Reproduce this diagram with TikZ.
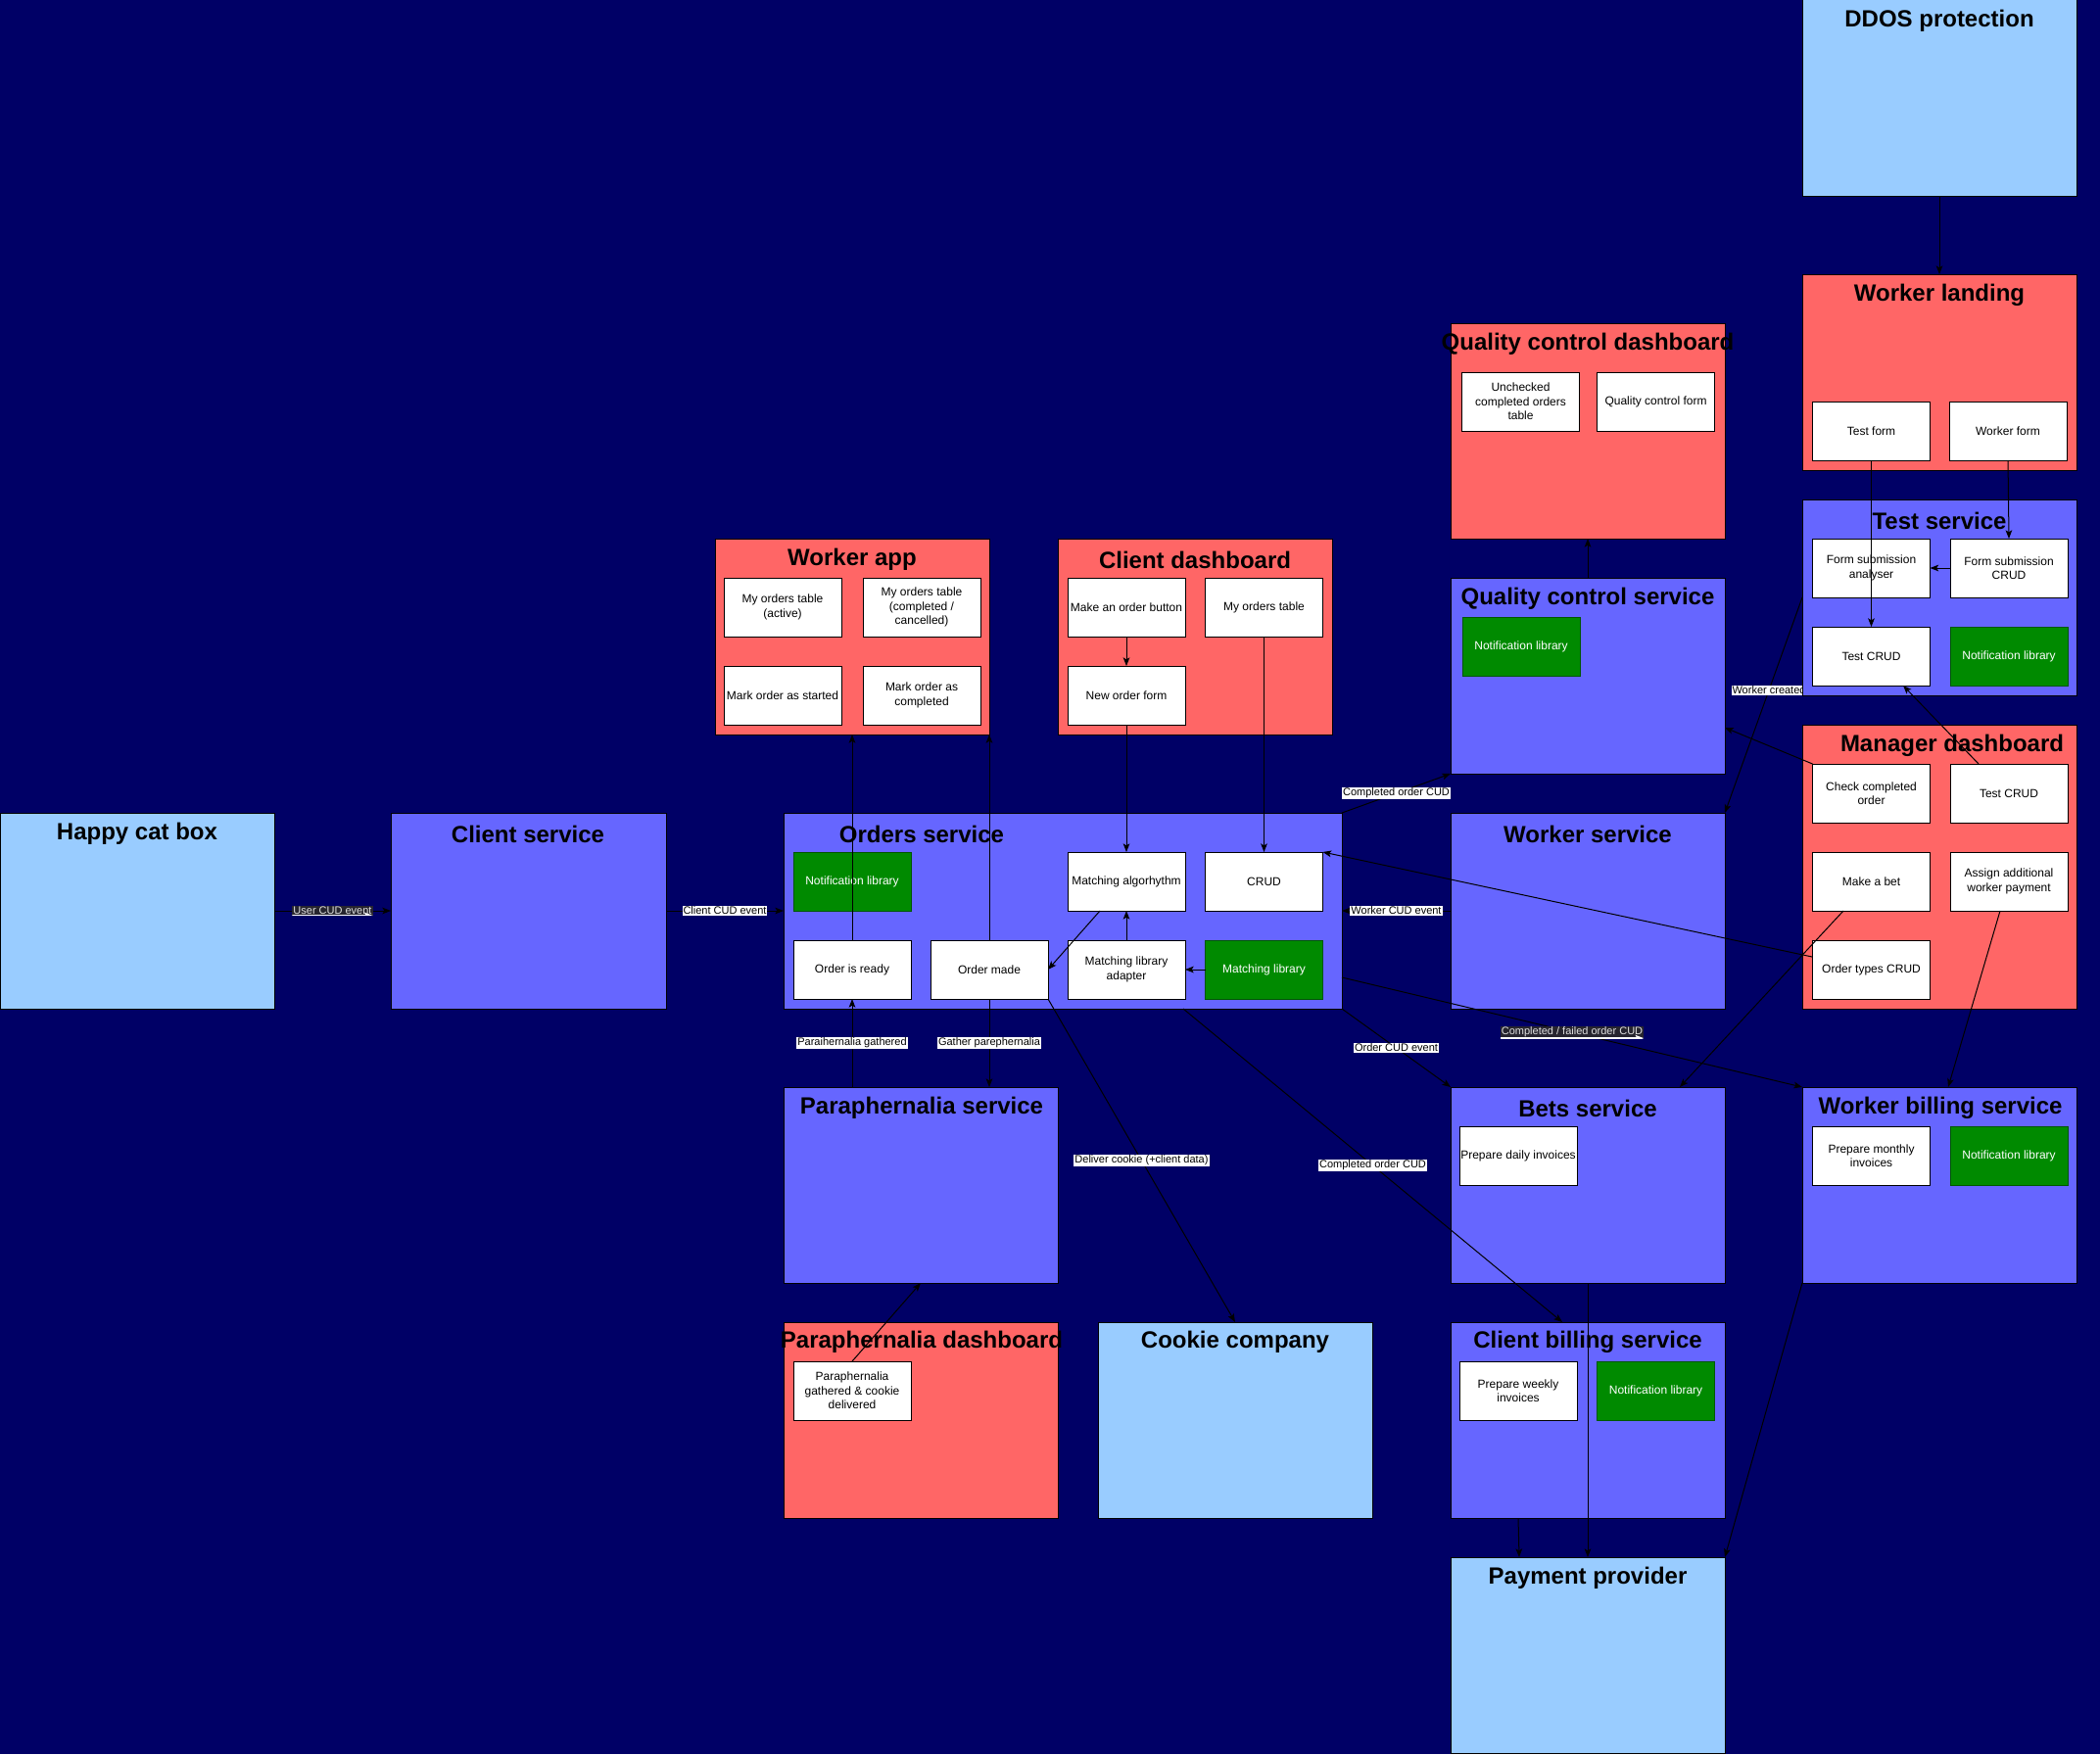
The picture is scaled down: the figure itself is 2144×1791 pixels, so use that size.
\documentclass[tikz,border=0pt]{standalone}
\usepackage{fontspec}
\setmainfont{Liberation Sans}
\usetikzlibrary{fit,calc,arrows.meta}

\definecolor{bgnavy}{HTML}{000066}
\definecolor{extblue}{HTML}{99CCFF}
\definecolor{svcblue}{HTML}{6666FF}
\definecolor{uired}{HTML}{FF6666}
\definecolor{libgreen}{HTML}{008A00}
\definecolor{libedge}{HTML}{005700}
\definecolor{tagdark}{HTML}{27252F}

\newcommand\headfont{\fontsize{18}{21.6}\selectfont\bfseries}
\newcommand\partfont{\fontsize{9}{10.8}\selectfont}
\newcommand\tagfont{\fontsize{8.25}{9.9}\selectfont}

\pgfdeclarelayer{canvas}
\pgfdeclarelayer{under}
\pgfsetlayers{canvas,under,main}

\tikzset{
  frame/.style={draw=black, line width=0.75pt, inner sep=0pt, outer sep=0pt},
  external/.style={frame, fill=extblue},
  service/.style={frame, fill=svcblue},
  ui/.style={frame, fill=uired},
  % components inside a zone: 120 x 60 units
  cell/.style={frame, minimum width=90pt, minimum height=45pt, font=\partfont, align=center},
  part/.style={cell, fill=white, text=black},
  lib/.style={cell, draw=libedge, fill=libgreen, text=white},
  heading/.style={font=\headfont, text=black, inner sep=0pt, yshift=-1.2pt},
  link/.style={draw=black, line width=0.75pt, -{Stealth[length=6.5pt, width=5pt, inset=1.5pt]}},
  tag/.style={fill=white, text=black, font=\tagfont, inner sep=0.75pt},
  darktag/.style={fill=tagdark, text=white!88!black, font=\tagfont, inner sep=0.75pt,
    path picture={\draw[white, line width=1pt]
      (path picture bounding box.south west) -- (path picture bounding box.south east);}},
}

\begin{document}
\begin{tikzpicture}[x=0.75pt, y=-0.75pt]
  % canvas
  \begin{pgfonlayer}{canvas}
    \fill[bgnavy] (0,0) rectangle (2144,1791);
  \end{pgfonlayer}
  \useasboundingbox (0,0) rectangle (2144,1791);

  % ---------- external systems ----------
  \node[external, fit={(1840,0)(2120,200)}] (ddos) {};
  \node[heading] at (1980,20) {DDOS protection};

  \node[external, fit={(0,830)(280,1030)}] (happy) {};
  \node[heading] at (140,850) {Happy cat box};

  \node[external, fit={(1121,1350)(1401,1550)}] (cookie) {};
  \node[heading] at (1261,1369) {Cookie company};

  \node[external, fit={(1481,1590)(1761,1790)}] (payment) {};
  \node[heading] at (1621,1610) {Payment provider};

  % ---------- worker landing ----------
  \node[ui, fit={(1840,280)(2120,480)}] (wland) {};
  \node[heading] at (1980,300) {Worker landing};
  \node[part] (testform) at (1910.5,440) {Test form};
  \node[part] (workerform) at (2050,440) {Worker form};

  % ---------- quality control dashboard ----------
  \node[ui, fit={(1481,330)(1761,550)}] (qcdash) {};
  \node[heading] at (1621,350) {Quality control dashboard};
  \node[part] (unchecked) at (1552.5,410) {Unchecked\\completed orders\\table};
  \node[part] (qcform) at (1690.5,410) {Quality control form};

  % ---------- test service ----------
  \node[service, fit={(1840,510)(2120,710)}] (testsvc) {};
  \node[heading] at (1980,530) {Test service};
  \node[part] (fsanalyser) at (1910.5,580) {Form submission\\analyser};
  \node[part] (fscrud) at (2051,580) {Form submission\\CRUD};
  \node[part] (testcrud) at (1910.5,670) {Test CRUD};
  \node[lib] (testnotif) at (2051,670) {Notification library};

  % ---------- worker app ----------
  \node[ui, fit={(730,550)(1010,750)}] (wapp) {};
  \node[heading] at (870,570) {Worker app};
  \node[part] (wactive) at (799,620) {My orders table\\(active)};
  \node[part] (wdone) at (941,620) {My orders table\\(completed /\\cancelled)};
  \node[part] (wstarted) at (799,710) {Mark order as started};
  \node[part] (wcompleted) at (941,710) {Mark order as\\completed};

  % ---------- client dashboard ----------
  \node[ui, fit={(1080,550)(1360,750)}] (cdash) {};
  \node[heading] at (1220,570) {Client dashboard};
  \node[part] (mkorder) at (1150,620) {Make an order button};
  \node[part] (cmyorders) at (1290.5,620) {My orders table};
  \node[part] (neworder) at (1150,710) {New order form};

  % ---------- quality control service ----------
  \node[service, fit={(1481,590)(1761,790)}] (qcsvc) {};
  \node[heading] at (1621,610) {Quality control service};
  \node[lib] (qcnotif) at (1553,660) {Notification library};

  % ---------- manager dashboard ----------
  \node[ui, fit={(1840,740)(2120,1030)}] (mdash) {};
  \node[heading] at (1993,760) {Manager dashboard};
  \node[part] (checkorder) at (1910.5,810) {Check completed\\order};
  \node[part] (mtestcrud) at (2051,810) {Test CRUD};
  \node[part] (makebet) at (1910.5,900) {Make a bet};
  \node[part] (assignpay) at (2051,900) {Assign additional\\worker payment};
  \node[part] (ordertypes) at (1910.5,990) {Order types CRUD};

  % ---------- client service ----------
  \node[service, fit={(399,830)(680,1030)}] (clientsvc) {};
  \node[heading] at (539,850) {Client service};

  % ---------- orders service ----------
  \node[service, fit={(800,830)(1370,1030)}] (orders) {};
  \node[heading] at (941,850) {Orders service};
  \node[lib] (ordnotif) at (870,900) {Notification library};
  \node[part] (matchalg) at (1150,900) {Matching algorhythm};
  \node[part] (crud) at (1290.5,900) {CRUD};
  \node[part] (orderready) at (870,990) {Order is ready};
  \node[part] (ordermade) at (1010,990) {Order made};
  \node[part] (adapter) at (1150,990) {Matching library\\adapter};
  \node[lib] (matchlib) at (1290.5,990) {Matching library};

  % ---------- worker service ----------
  \node[service, fit={(1481,830)(1761,1030)}] (workersvc) {};
  \node[heading] at (1621,850) {Worker service};

  % ---------- paraphernalia ----------
  \node[service, fit={(800,1110)(1080,1310)}] (parasvc) {};
  \node[heading] at (941,1130) {Paraphernalia service};

  \node[ui, fit={(800,1350)(1080,1550)}] (paradash) {};
  \node[heading] at (941,1369) {Paraphernalia dashboard};
  \node[part] (paragath) at (870,1420) {Paraphernalia\\gathered \& cookie\\delivered};

  % ---------- bets service ----------
  \node[service, fit={(1481,1110)(1761,1310)}] (bets) {};
  \node[heading] at (1621,1130) {Bets service};
  \node[part] (dailyinv) at (1550,1180) {Prepare daily invoices};

  % ---------- worker billing service ----------
  \node[service, fit={(1840,1110)(2120,1310)}] (wbill) {};
  \node[heading] at (1981,1130) {Worker billing service};
  \node[part] (monthlyinv) at (1910.5,1180) {Prepare monthly\\invoices};
  \node[lib] (wbillnotif) at (2051,1180) {Notification library};

  % ---------- client billing service ----------
  \node[service, fit={(1481,1350)(1761,1550)}] (cbill) {};
  \node[heading] at (1621,1369) {Client billing service};
  \node[part] (weeklyinv) at (1550,1420) {Prepare weekly\\invoices};
  \node[lib] (cbillnotif) at (1690.5,1420) {Notification library};

  % ---------- connection points off the anchors ----------
  \coordinate (ordersR) at (1370,998);
  \coordinate (ordersB) at (1208,1030);
  \coordinate (cbillT) at (1595,1350);
  \coordinate (matchalgOut) at (1123,930);
  \coordinate (mtestOut) at (2020,780);
  \coordinate (testcrudIn) at (1943,700);
  \coordinate (qcsvcIn) at (1761,743);
  \coordinate (typesOut) at (1850,977);
  \coordinate (betOut) at (1882,930);
  \coordinate (betsIn) at (1715,1110);
  \coordinate (payOut) at (2042,930);
  \coordinate (wbillIn) at (1989,1110);
  \coordinate (cbillOut) at (1550,1550);
  \coordinate (payIn) at (1551,1590);

  % ---------- events between services ----------
  \draw[link] (happy.east) -- node[darktag] {User CUD event} (clientsvc.west);
  \draw[link] (clientsvc.east) -- node[tag] {Client CUD event} (orders.west);
  \draw[link] (workersvc.west) -- node[tag] {Worker CUD event} (orders.east);
  \draw[link] (orders.north east) -- node[tag] {Completed order CUD} (qcsvc.south west);
  \draw[link] (orders.south east) -- node[tag] {Order CUD event} (bets.north west);
  \draw[link] (ordersR) -- node[darktag] {Completed / failed order CUD} (wbill.north west);
  \draw[link] (ordermade.south east) -- node[tag] {Deliver cookie (+client data)} (cookie.north);
  \draw[link] (ordersB) -- node[tag] {Completed order CUD} (cbillT);
  \draw[link] (orderready.south |- parasvc.north) -- node[tag] {Paraihernalia gathered} (orderready.south);
  \draw[link] (ordermade.south) -- node[tag] {Gather parephernalia} (ordermade.south |- parasvc.north);
  % this one runs beneath the zones, so the test service hides the end of its label
  \begin{pgfonlayer}{under}
    \draw[link] (testsvc.west) -- node[tag, pos=0.43] {Worker created} (workersvc.north east);
  \end{pgfonlayer}

  % ---------- orders service internals ----------
  \draw[link] (ordermade.north) -- (wapp.south east);
  \draw[link] (orderready.north) -- (wapp.south);
  \draw[link] (mkorder.south) -- (neworder.north);
  \draw[link] (neworder.south) -- (matchalg.north);
  \draw[link] (cmyorders.south) -- (crud.north);
  \draw[link] (matchalgOut) -- (ordermade.east);
  \draw[link] (adapter.north) -- (matchalg.south);
  \draw[link] (matchlib.west) -- (adapter.east);
  \draw[link] (paragath.north) -- (parasvc.south);

  % ---------- worker side ----------
  \draw[link] (ddos.south) -- (wland.north);
  \draw[link] (testform.south) -- (testcrud.north);
  \draw[link] (workerform.south) -- (fscrud.north);
  \draw[link] (fscrud.west) -- (fsanalyser.east);
  \draw[link] (qcsvc.north) -- (qcdash.south);

  % ---------- manager dashboard ----------
  \draw[link] (mtestOut) -- (testcrudIn);
  \draw[link] (checkorder.north west) -- (qcsvcIn);
  \draw[link] (typesOut) -- (crud.north east);
  \draw[link] (betOut) -- (betsIn);
  \draw[link] (payOut) -- (wbillIn);

  % ---------- billing ----------
  \draw[link] (bets.south) -- (payment.north);
  \draw[link] (cbillOut) -- (payIn);
  \draw[link] (wbill.south west) -- (payment.north east);
\end{tikzpicture}
\end{document}
